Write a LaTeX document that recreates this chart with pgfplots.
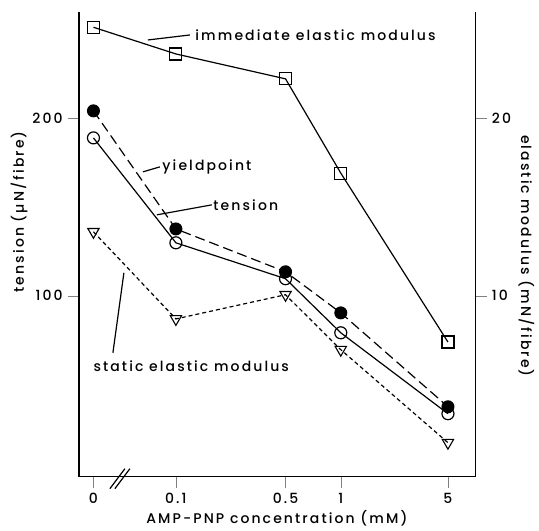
\documentclass[border=0pt]{standalone}
\usepackage{fontspec}
\setmainfont{Poppins}[LetterSpace=15, UprightFont=* Medium]
\usepackage{pgfplots}
\pgfplotsset{compat=1.18}
\begin{document}
\fontsize{14}{16}\selectfont
\begin{tikzpicture}
  \pgfplotsset{
    every axis/.append style={
      scale only axis,
      width=397pt, height=465pt,
      xmin=-0.176, xmax=4.636,
      tick align=outside,
      major tick length=11pt,
      line width=1.2pt,
      /pgf/number format/assume math mode=true,
      tick label style={font=\fontsize{14}{16}\selectfont},
      label style={font=\fontsize{14}{16}\selectfont},
    },
  }
  \begin{axis}[
    axis x line*=bottom,
    axis y line*=left,
    ymin=-1.7, ymax=259.6,
    xtick={0,1,2.33,3,4.30},
    xticklabels={0,0.1,0.5,1,5},
    ytick={100,200},
    xlabel={AMP-PNP concentration (mM)},
    ylabel={tension (µN/fibre)},
    xlabel style={at={(axis description cs:0.499,-0.090)}, anchor=center},
    ylabel style={at={(axis description cs:-0.151,0.570)}, anchor=center, rotate=0},
  ]
    % yield point
    \addplot[black, line width=1.2pt, dash pattern=on 10pt off 5pt,
      mark=*, mark size=6pt, mark options={solid, fill=black, line width=1pt}]
      coordinates {(0,204)(1,137.6)(2.33,113.5)(3,90.4)(4.30,37.6)};
    % tension
    \addplot[black, line width=1.2pt,
      mark=o, mark size=6pt, mark options={solid, fill=white, line width=1.2pt}]
      coordinates {(0,188.8)(1,129.8)(2.33,109.6)(3,79.2)(4.30,33.7)};
  \end{axis}
  \begin{axis}[
    axis x line=none,
    axis y line*=right,
    ymin=-0.17, ymax=25.96,
    ytick={10,20},
    ylabel={elastic modulus (mN/fibre)},
    ylabel style={at={(axis description cs:1.128,0.475)}, anchor=center, rotate=180},
  ]
    % immediate elastic modulus
    \addplot[black, line width=1.2pt,
      mark=square, mark size=6pt, mark options={solid, fill=white, line width=1.1pt}]
      coordinates {(0,25.1)(1,23.6)(2.33,22.2)(3,16.9)(4.30,7.4)};
    % static elastic modulus
    \addplot[black, line width=1.2pt, dash pattern=on 4pt off 3pt,
      mark=triangle, mark size=6.5pt, mark options={solid, fill=white, rotate=180, line width=1.1pt}]
      coordinates {(0,13.6)(1,8.7)(2.33,10.06)(3,6.97)(4.30,1.74)};
  \end{axis}
  % annotations
  \begin{scope}[line width=1.2pt]
    \draw (69pt,437pt) -- (111pt,442pt);
    \node[anchor=west, inner sep=0pt] at (116pt,442pt) {immediate elastic modulus};
    \draw (64pt,305pt) -- (81pt,310pt);
    \node[anchor=west, inner sep=0pt] at (83pt,310pt) {yieldpoint};
    \draw (78pt,262pt) -- (133pt,272pt);
    \node[anchor=west, inner sep=0pt] at (134pt,272pt) {tension};
    \draw (34pt,124pt) -- (45pt,204pt);
    \node[anchor=west, inner sep=0pt] at (14pt,111pt) {static elastic modulus};
    % axis break
    \draw (31pt,-12pt) -- (46pt,8pt);
    \draw (36pt,-12pt) -- (51pt,8pt);
  \end{scope}
  \path (-79pt,-53pt) rectangle (460pt,477pt);
\end{tikzpicture}
\end{document}
